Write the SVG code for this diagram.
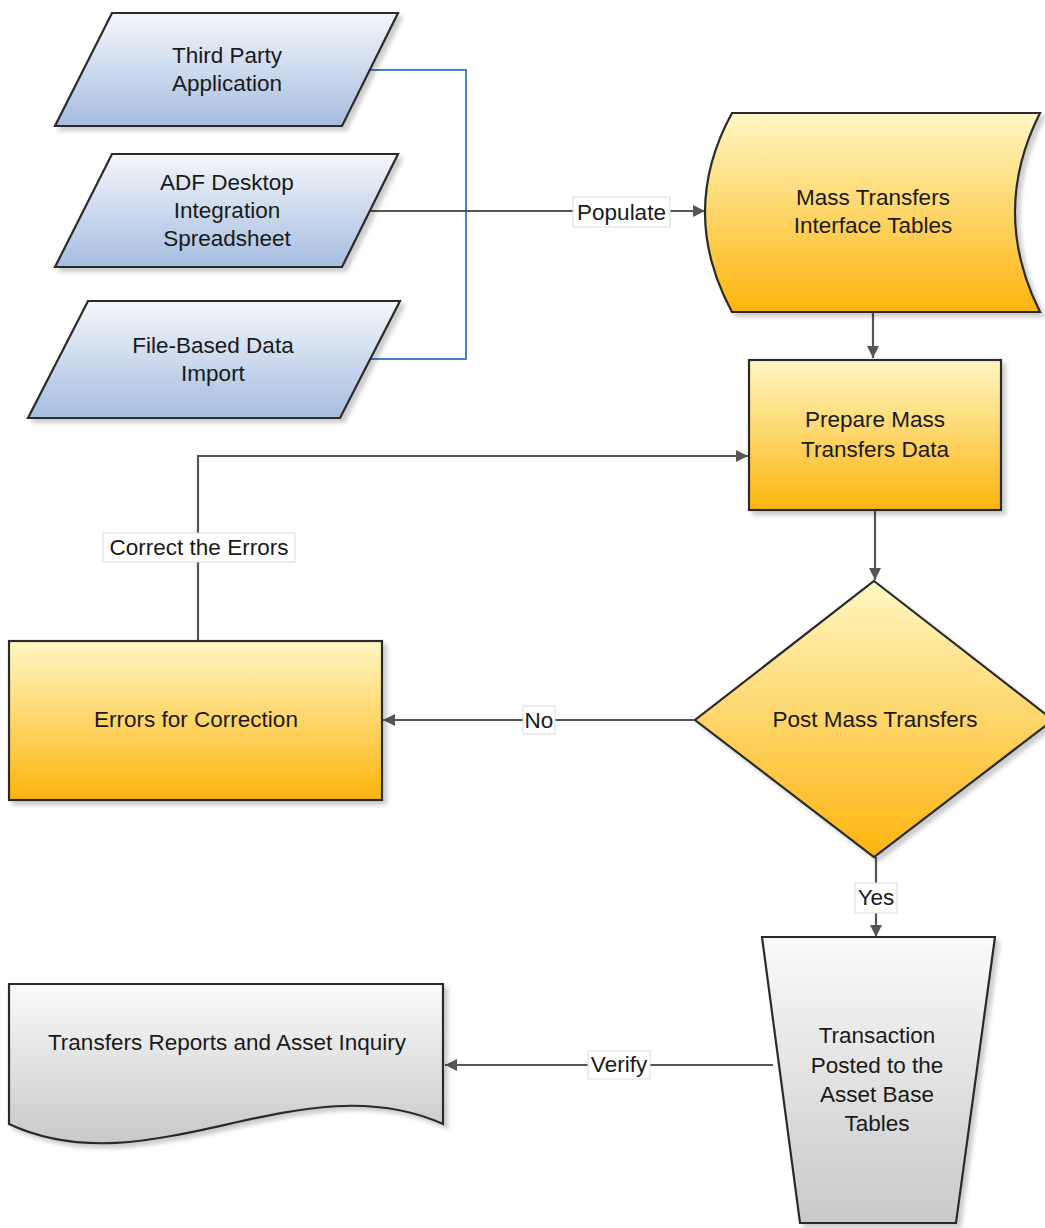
<svg xmlns="http://www.w3.org/2000/svg" width="1045" height="1228" viewBox="0 0 1045 1228">
<style>
.t{font-family:"Liberation Sans",Arial,sans-serif;font-size:22.5px;fill:#1a1a1a;text-anchor:middle}
.sh{stroke:#2b2b2b;stroke-width:2.2;filter:url(#ds)}
.c{fill:none;stroke:#555;stroke-width:2.2}
.cb{fill:none;stroke:#4a7fd0;stroke-width:2}
.lb{fill:#fff;stroke:#dcdcdc;stroke-width:1}
</style>
<defs>
<linearGradient id="gb" x1="0" y1="0" x2="0" y2="1"><stop offset="0" stop-color="#f4f6fb"/><stop offset="1" stop-color="#a6bde0"/></linearGradient>
<linearGradient id="gy" x1="0" y1="0" x2="0" y2="1"><stop offset="0" stop-color="#fff7c4"/><stop offset="1" stop-color="#fdb40e"/></linearGradient>
<linearGradient id="gg" x1="0" y1="0" x2="0" y2="1"><stop offset="0" stop-color="#fafafa"/><stop offset="1" stop-color="#c9c9c9"/></linearGradient>
<filter id="ds" x="-10%" y="-10%" width="130%" height="130%"><feDropShadow dx="4" dy="4" stdDeviation="2" flood-color="#000" flood-opacity="0.2"/></filter>
<marker id="ah" markerWidth="12" markerHeight="12" viewBox="0 0 12 12" refX="12" refY="6" orient="auto" markerUnits="userSpaceOnUse"><path d="M0,0 L12,6 L0,12 Z" fill="#555"/></marker>
</defs>

<g id="connectors">
<polyline class="cb" points="370,70 466,70 466,359 370,359"/>
<line class="c" x1="370" y1="211" x2="705" y2="211" marker-end="url(#ah)"/>
<line class="c" x1="873" y1="312" x2="873" y2="358" marker-end="url(#ah)"/>
<line class="c" x1="875" y1="510" x2="875" y2="580" marker-end="url(#ah)"/>
<polyline class="c" points="198,640 198,456 748,456" marker-end="url(#ah)"/>
<line class="c" x1="695" y1="720" x2="383" y2="720" marker-end="url(#ah)"/>
<line class="c" x1="876" y1="857" x2="876" y2="937" marker-end="url(#ah)"/>
<line class="c" x1="773" y1="1065" x2="445" y2="1065" marker-end="url(#ah)"/>
<g id="labels">
<rect class="lb" x="573" y="197" width="97" height="30"/><text class="t" x="621.5" y="219.5">Populate</text>
<rect class="lb" x="103" y="533" width="192" height="29"/><text class="t" x="199" y="555">Correct the Errors</text>
<rect class="lb" x="523" y="706" width="32" height="28"/><text class="t" x="539" y="728">No</text>
<rect class="lb" x="855" y="883" width="42" height="30"/><text class="t" x="876" y="905">Yes</text>
<rect class="lb" x="588" y="1051" width="62" height="28"/><text class="t" x="619" y="1072">Verify</text>
</g>
</g>

<g id="third-party">
<polygon class="sh" fill="url(#gb)" points="112,13 398,13 342,126 55,126"/>
<text class="t" x="227" y="63">Third Party</text>
<text class="t" x="227" y="91">Application</text>
</g>
<g id="adf">
<polygon class="sh" fill="url(#gb)" points="112,154 398,154 342,267 55,267"/>
<text class="t" x="227" y="190">ADF Desktop</text>
<text class="t" x="227" y="218">Integration</text>
<text class="t" x="227" y="246">Spreadsheet</text>
</g>
<g id="fbdi">
<polygon class="sh" fill="url(#gb)" points="88,301 400,301 340,418 28,418"/>
<text class="t" x="213" y="353">File-Based Data</text>
<text class="t" x="213" y="381">Import</text>
</g>
<g id="interface-tables">
<path class="sh" fill="url(#gy)" d="M732,113 L1040,113 Q990,212 1040,312 L732,312 Q678,212 732,113 Z"/>
<text class="t" x="873" y="205">Mass Transfers</text>
<text class="t" x="873" y="233">Interface Tables</text>
</g>
<g id="prepare">
<rect class="sh" fill="url(#gy)" x="749" y="360" width="252" height="150"/>
<text class="t" x="875" y="427">Prepare Mass</text>
<text class="t" x="875" y="457">Transfers Data</text>
</g>
<g id="post">
<polygon class="sh" fill="url(#gy)" points="874,581 1053,720 874,857 695,720"/>
<text class="t" x="875" y="727">Post Mass Transfers</text>
</g>
<g id="errors">
<rect class="sh" fill="url(#gy)" x="9" y="641" width="373" height="159"/>
<text class="t" x="196" y="727">Errors for Correction</text>
</g>
<g id="posted">
<polygon class="sh" fill="url(#gg)" points="762,937 995,937 956,1223 800,1223"/>
<text class="t" x="877" y="1043">Transaction</text>
<text class="t" x="877" y="1073">Posted to the</text>
<text class="t" x="877" y="1102">Asset Base</text>
<text class="t" x="877" y="1131">Tables</text>
</g>
<g id="reports">
<path class="sh" fill="url(#gg)" d="M9,984 L443,984 L443,1124 C300,1060 150,1190 9,1124 Z"/>
<text class="t" x="227" y="1050">Transfers Reports and Asset Inquiry</text>
</g>
</svg>
